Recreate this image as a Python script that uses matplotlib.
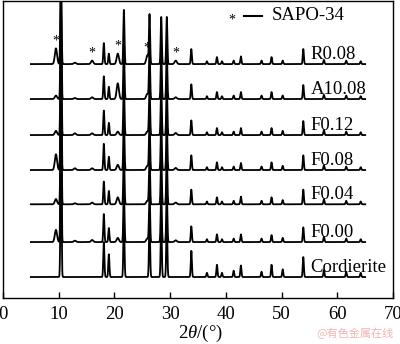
import numpy as np
import matplotlib
matplotlib.use('Agg')
import matplotlib.pyplot as plt

plt.rcParams['font.family'] = ['Liberation Serif', 'DejaVu Serif']
plt.rcParams['mathtext.fontset'] = 'custom'
plt.rcParams['mathtext.rm'] = 'Liberation Serif'
plt.rcParams['mathtext.it'] = 'Liberation Serif:italic'

# ---- data ----
samples = ['Cordierite', 'F0.00', 'F0.04', 'F0.08', 'F0.12', 'A10.08', 'R0.08']
offsets = [0.6, 1.6, 2.68, 3.66, 4.66, 5.69, 6.69]

cord_pos = [10.4, 18.1, 19.0, 21.7, 26.3, 28.4, 29.4, 33.8, 36.6, 38.4,
            39.3, 41.4, 42.7, 46.4, 48.2, 50.2, 53.9, 57.6, 61.6, 64.2]
cord_h = {
    'Cordierite': [3.2, 1.0, 0.65, 1.7, 1.6, 1.6, 1.6, 0.75, 0.12, 0.35,
                   0.12, 0.18, 0.33, 0.15, 0.35, 0.22, 0.57, 0.2, 0.15, 0.12],
    'F0.00': [3.0, 0.8, 0.4, 1.55, 1.45, 1.45, 1.45, 0.45, 0.08, 0.22,
              0.08, 0.1, 0.22, 0.1, 0.2, 0.12, 0.42, 0.15, 0.1, 0.08],
    'F0.04': [3.0, 0.65, 0.38, 1.55, 1.45, 1.45, 1.45, 0.42, 0.08, 0.2,
              0.08, 0.1, 0.22, 0.1, 0.2, 0.12, 0.42, 0.14, 0.1, 0.08],
    'F0.08': [3.0, 0.75, 0.38, 1.55, 1.45, 1.45, 1.45, 0.42, 0.08, 0.22,
              0.08, 0.1, 0.2, 0.1, 0.22, 0.12, 0.42, 0.14, 0.1, 0.08],
    'F0.12': [3.0, 0.7, 0.35, 1.55, 1.45, 1.45, 1.45, 0.42, 0.08, 0.2,
              0.08, 0.1, 0.2, 0.1, 0.2, 0.12, 0.4, 0.14, 0.1, 0.08],
    'A10.08': [3.0, 0.65, 0.35, 1.55, 1.45, 1.4, 1.4, 0.42, 0.08, 0.2,
               0.08, 0.1, 0.2, 0.1, 0.2, 0.1, 0.4, 0.12, 0.1, 0.08],
    'R0.08': [3.0, 0.6, 0.3, 1.55, 1.4, 1.35, 1.35, 0.43, 0.08, 0.2,
              0.08, 0.1, 0.22, 0.1, 0.2, 0.1, 0.43, 0.12, 0.1, 0.08],
}

sapo_pos = [9.5, 12.9, 16.0, 20.6, 25.9, 31.0]
sapo_h = {
    'Cordierite': [0, 0, 0, 0, 0, 0],
    'F0.00': [0.35, 0.04, 0.06, 0.12, 0.1, 0.05],
    'F0.04': [0.15, 0.03, 0.05, 0.2, 0.1, 0.05],
    'F0.08': [0.45, 0.05, 0.05, 0.15, 0.12, 0.06],
    'F0.12': [0.12, 0.05, 0.05, 0.1, 0.1, 0.06],
    'A10.08': [0.1, 0.03, 0.05, 0.45, 0.15, 0.05],
    'R0.08': [0.45, 0.04, 0.1, 0.3, 0.25, 0.1],
}
star_pos = [9.5, 16.0, 20.6, 25.9, 31.0]

xticks = [0, 10, 20, 30, 40, 50, 60, 70]

# ---- figure ----
fig = plt.figure(figsize=(4.0, 3.44), dpi=100)
ax = fig.add_axes([0.0075, 0.1337, 0.975, 0.864])

x = np.linspace(5, 65, 4000)


def pattern(pos, hts, w):
    y = np.zeros_like(x)
    for p, h in zip(pos, hts):
        y += h * np.exp(-0.5 * ((x - p) / w) ** 2)
    return y


for name, off in zip(samples, offsets):
    y = off + pattern(cord_pos, cord_h[name], 0.1) + pattern(sapo_pos, sapo_h[name], 0.2)
    ax.plot(x, y, color='black', lw=1.3)
    ax.text(55.2, off + 0.15, name, fontsize=13.5, ha='left', va='baseline')
    if name == 'R0.08':
        for sp in star_pos:
            yy = np.interp(sp, x, y)
            ax.text(sp, yy + 0.02, '*', fontsize=10, ha='center', va='bottom')

# legend-like annotation
ax.text(0.588, 0.935, '*', fontsize=10, ha='center', va='center', transform=ax.transAxes)
ax.plot([0.617, 0.664], [0.95, 0.95], color='black', lw=1.5, transform=ax.transAxes)
ax.text(0.688, 0.95, 'SAPO-34', fontsize=13.5, ha='left', va='center', transform=ax.transAxes)

ax.set_xlim(0, 70)
ax.set_ylim(0, 8.5)
ax.set_xticks(xticks)
ax.set_xticklabels([str(t) for t in xticks])
ax.set_yticks([])
ax.tick_params(axis='x', direction='in', length=4, width=1, pad=6, labelsize=13.5)
for s in ax.spines.values():
    s.set_linewidth(1.0)

fig.text(0.5, 0.032, r'$\mathit{2\theta}$/(°)', fontsize=13.5, ha='center', va='center')
fig.text(0.985, 0.032, '@有色金属在线', fontsize=8, color='#f0b4b4', ha='right', va='center',
         family=['Noto Sans CJK SC', 'DejaVu Sans'])

fig.savefig('out.png', dpi=100)
